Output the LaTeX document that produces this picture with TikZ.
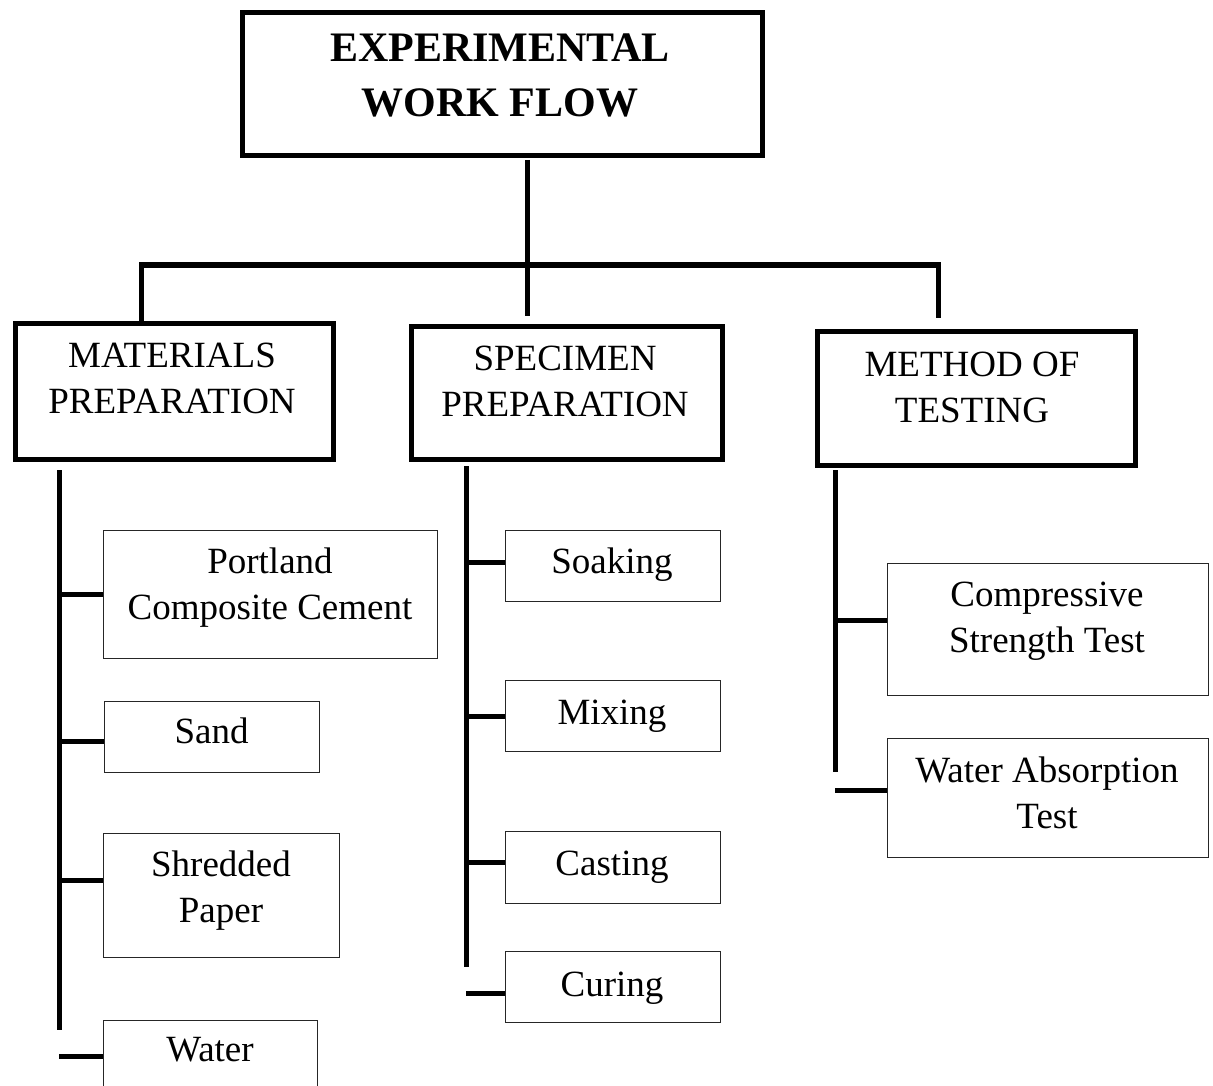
\documentclass[tikz,border=0pt]{standalone}
\usepackage{fontspec}
\setmainfont{Liberation Serif}
\usetikzlibrary{calc}

\begin{document}
\begin{tikzpicture}[x=1pt, y=-1pt,
	tree/.style={line width=5pt},
	mainbox/.style={draw, line width=5pt, anchor=north west, inner sep=0pt},
	itembox/.style={draw=black!85, line width=1.4pt, anchor=north west, inner sep=0pt},
	boxtext/.style={align=center, inner sep=0pt, font=\fontsize{37}{46}\selectfont},
	titletext/.style={align=center, inner sep=0pt, font=\bfseries\fontsize{42}{55}\selectfont}]
	
	% page frame
	\clip (0,0) rectangle (1213,1086);
	
	% top box
	\node[mainbox, minimum width=520, minimum height=143] (title) at (240,10) {};
	\node[titletext] (titleT) at (500,75.5) {EXPERIMENTAL\\WORK FLOW};
	
	% three main stages
	\node[mainbox, minimum width=318, minimum height=136] (mat) at (13,321) {};
	\node[boxtext] (matT) at (172,378) {MATERIALS\\PREPARATION};
	\node[mainbox, minimum width=311, minimum height=133] (spec) at (409,324) {};
	\node[boxtext] (specT) at (565,381.5) {SPECIMEN\\PREPARATION};
	\node[mainbox, minimum width=318, minimum height=134] (meth) at (815,329) {};
	\node[boxtext] (methT) at (972,387) {METHOD OF\\TESTING};
	
	% trunk and bar
	\coordinate (hub) at (527,265);
	\coordinate (barL) at (141,265);
	\coordinate (barR) at (938,265);
	\draw[tree] ($(title.south -| hub)+(0,2)$) -- ($(hub |- spec.north)+(0,-8)$);
	\draw[tree] (barL |- mat.north) -- (barL) -- (barR) -- ($(barR |- meth.north)+(0,-11)$);
	
	% materials
	\node[itembox, minimum width=334, minimum height=128] (port) at (103,530) {};
	\node[boxtext] (portT) at (270,588) {Portland\\Composite Cement};
	\node[itembox, minimum width=215, minimum height=71] (sand) at (104,701) {};
	\node[boxtext] (sandT) at (211.5,731) {Sand};
	\node[itembox, minimum width=236, minimum height=124] (shred) at (103,833) {};
	\node[boxtext] (shredT) at (221,891) {Shredded\\Paper};
	\node[itembox, minimum width=214, minimum height=72] (water) at (103,1020) {};
	\node[boxtext] (waterT) at (210,1050) {Water};
	
	% specimen
	\node[itembox, minimum width=215, minimum height=71] (soak) at (505,530) {};
	\node[boxtext] (soakT) at (612,565) {Soaking};
	\node[itembox, minimum width=215, minimum height=71] (mix) at (505,680) {};
	\node[boxtext] (mixT) at (612,716) {Mixing};
	\node[itembox, minimum width=215, minimum height=72] (cast) at (505,831) {};
	\node[boxtext] (castT) at (612,867) {Casting};
	\node[itembox, minimum width=215, minimum height=71] (cure) at (505,951) {};
	\node[boxtext] (cureT) at (612,988) {Curing};
	
	% testing
	\node[itembox, minimum width=321, minimum height=132] (comp) at (887,563) {};
	\node[boxtext] (compT) at (1047,621) {Compressive\\Strength Test};
	\node[itembox, minimum width=321, minimum height=119] (wabs) at (887,738) {};
	\node[boxtext] (wabsT) at (1047,792.5) {Water Absorption\\Test};
	
	% spines
	\coordinate (spineL) at (59,470);
	\coordinate (spineM) at (466,466);
	\coordinate (spineR) at (835,470);
	\draw[tree] (spineL) -- ++(0,560);
	\draw[tree] (spineM) -- ++(0,501);
	\draw[tree] (spineR) -- ++(0,302);
	
	% branches
	\foreach \b/\dy/\s in {port/0/spineL, sand/4.5/spineL, shred/-15/spineL, water/0/spineL,
		soak/-3.5/spineM, mix/0/spineM, cast/-5/spineM, cure/6.5/spineM,
		comp/-9/spineR, wabs/-7.5/spineR} {
		\coordinate (j\b) at ($(\b.west)+(0,\dy)$);
		\draw[tree] (\s |- j\b) -- (j\b);
	}
\end{tikzpicture}
\end{document}
